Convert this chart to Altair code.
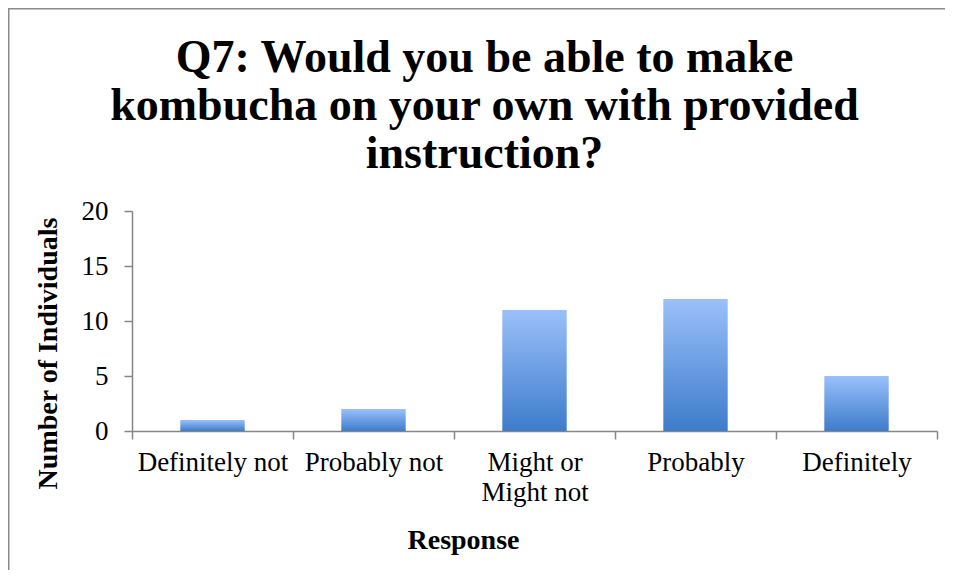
import altair as alt
import pandas as pd

categories = ["Definitely not", "Probably not", "Might or\nMight not", "Probably", "Definitely"]
counts = [1, 2, 11, 12, 5]
y_ticks = [0, 5, 10, 15, 20]
title_lines = ["Q7: Would you be able to make", "kombucha on your own with provided", "instruction?"]

df = pd.DataFrame({"Response": categories, "Count": counts})
frame_df = pd.DataFrame({"a": [0]})

FONT = "Liberation Serif"
GRAY = "#868686"

bars = alt.Chart(df).mark_bar(
    width=alt.RelativeBandSize(0.4),
    color=alt.Gradient(
        gradient="linear",
        stops=[alt.GradientStop(color="#9AC0FA", offset=0),
               alt.GradientStop(color="#3D7CCB", offset=1)],
        x1=0, x2=0, y1=0, y2=1,
    ),
).encode(
    x=alt.X("Response:N", sort=categories,
            scale=alt.Scale(paddingInner=0, paddingOuter=0),
            axis=alt.Axis(title="Response", labelAngle=0, tickBand="extent",
                          labelExpr="split(datum.label, '\\n')",
                          labelFont=FONT, labelFontSize=27, labelColor="black",
                          labelLineHeight=30, labelPadding=10,
                          titleFont=FONT, titleFontSize=28, titleFontWeight="bold",
                          titleColor="black", titleX=331, titleY=117,
                          titleBaseline="alphabetic",
                          domainColor=GRAY, domainWidth=1.5,
                          tickColor=GRAY, tickWidth=1.5, tickSize=8)),
    y=alt.Y("Count:Q", scale=alt.Scale(domain=[0, 20]),
            axis=alt.Axis(title="Number of Individuals", values=y_ticks, grid=False,
                          labelFont=FONT, labelFontSize=27, labelColor="black",
                          labelPadding=16,
                          titleFont=FONT, titleFontSize=28, titleFontWeight="bold",
                          titleColor="black", titleX=-70, titleY=142, titleAngle=270,
                          titleBaseline="bottom",
                          domainColor=GRAY, domainWidth=1.5,
                          tickColor=GRAY, tickWidth=1.5, tickSize=8)),
)

frame = alt.Chart(frame_df).mark_rect(filled=False, stroke="#8A8A8A", strokeWidth=1.5).encode(
    x=alt.value(-123.25), x2=alt.value(1000), y=alt.value(-202.25), y2=alt.value(800)
)

chart = alt.layer(frame, bars).properties(
    width=805, height=220,
    background="white",
    autosize=alt.AutoSizeParams(type="none"),
    padding={"left": 124, "top": 203, "right": 8, "bottom": 139},
    title=alt.TitleParams(text=title_lines, font=FONT, fontSize=46, fontWeight="bold",
                          lineHeight=48, anchor="middle", dx=-50, dy=170,
                          color="black", offset=0),
).configure_view(stroke=None)

chart.save("out.html", embed_options={"renderer": "svg", "actions": False})
